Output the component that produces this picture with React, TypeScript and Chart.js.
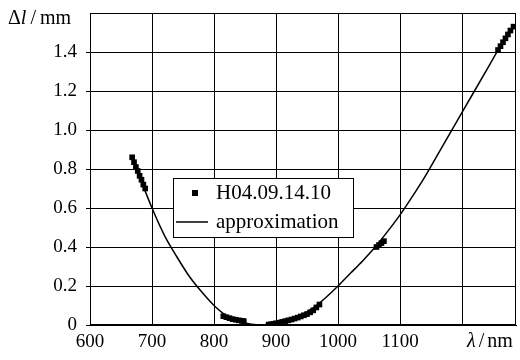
import React, { useEffect, useRef } from 'react';
import { Chart, registerables } from 'chart.js';
Chart.register(...registerables);

// Measured points (nm, mm)
const measuredLambda = [
  668, 671, 674, 677, 680, 683, 686, 689,
  815, 820, 825, 830, 835, 840, 845, 848,
  888, 892, 896, 900, 905, 910, 915, 920, 925, 930, 935, 940, 945, 950, 955, 960, 965, 970,
  1062, 1066, 1070, 1074,
  1258, 1262, 1266, 1270, 1274, 1278, 1283,
];
const measuredDl = [
  0.86, 0.835, 0.81, 0.79, 0.765, 0.745, 0.72, 0.70,
  0.045, 0.04, 0.035, 0.03, 0.027, 0.024, 0.021, 0.02,
  0.002, 0.004, 0.006, 0.009, 0.012, 0.016, 0.02, 0.024, 0.028, 0.033, 0.038, 0.044, 0.05, 0.056, 0.065, 0.075, 0.09, 0.105,
  0.40, 0.41, 0.42, 0.43,
  1.41, 1.43, 1.45, 1.47, 1.49, 1.51, 1.53,
];

// Approximation curve (nm, mm)
const approxLambda = [
  668, 680, 700, 720, 740, 760, 780, 800, 820, 840, 860, 880, 900, 920, 940, 960, 980,
  1000, 1020, 1040, 1060, 1080, 1100, 1120, 1140, 1160, 1180, 1200, 1220, 1240, 1260, 1285,
];
const approxDl = [
  0.86, 0.76, 0.60, 0.46, 0.35, 0.25, 0.17, 0.10, 0.048, 0.02, 0.004, 0.0, 0.007, 0.024, 0.05, 0.088, 0.14,
  0.20, 0.265, 0.33, 0.40, 0.48, 0.565, 0.66, 0.76, 0.87, 0.98, 1.09, 1.20, 1.31, 1.42, 1.54,
];

const xTickValues = [600, 700, 800, 900, 1000, 1100, 1200];
const yTickValues = [0, 0.2, 0.4, 0.6, 0.8, 1.0, 1.2, 1.4, 1.6];
const seriesLabels = ['H04.09.14.10', 'approximation'];
const yTitle = ['Δ', 'l', '/', 'mm'];
const xTitle = ['λ', '/', 'nm'];

const FONT_FAMILY = '"Liberation Serif", "Times New Roman", serif';
const FONT_SIZE = 19;

export default function App() {
  const ref = useRef<HTMLCanvasElement>(null);

  useEffect(() => {
    const canvas = ref.current;
    if (!canvas) return;

    const overlay = {
      id: 'overlay',
      afterDraw(chart: any) {
        const ctx = chart.ctx as CanvasRenderingContext2D;
        const a = chart.chartArea;
        ctx.save();
        // frame
        ctx.strokeStyle = '#000';
        ctx.lineWidth = 1;
        ctx.strokeRect(Math.round(a.left) + 0.5, Math.round(a.top) + 0.5, Math.round(a.right - a.left) - 1, Math.round(a.bottom - a.top) - 1);

        const tsize = 20;
        const normal = `${tsize}px ${FONT_FAMILY}`;
        const italic = `italic ${tsize}px ${FONT_FAMILY}`;
        ctx.fillStyle = '#000';
        ctx.textBaseline = 'middle';
        ctx.textAlign = 'left';

        // y title
        let x = 8;
        const yy = 19;
        [normal, italic, normal, normal].forEach((f, i) => {
          ctx.font = f;
          const pad = yTitle[i] === '/' ? 4 : 0;
          x += pad;
          ctx.fillText(yTitle[i], x, yy);
          x += ctx.measureText(yTitle[i]).width + pad;
        });
        // x title
        x = 467;
        const xy = 342;
        [italic, normal, normal].forEach((f, i) => {
          ctx.font = f;
          const pad = xTitle[i] === '/' ? 3 : 0;
          x += pad;
          ctx.fillText(xTitle[i], x, xy);
          x += ctx.measureText(xTitle[i]).width + pad;
        });

        // legend
        const lx = a.left + 83;
        const ly = a.top + 165;
        const lw = 180;
        const lh = 59;
        ctx.fillStyle = '#fff';
        ctx.fillRect(lx, ly, lw, lh);
        ctx.strokeStyle = '#000';
        ctx.lineWidth = 1;
        ctx.strokeRect(lx + 0.5, ly + 0.5, lw, lh);
        ctx.fillStyle = '#000';
        ctx.fillRect(lx + 19, ly + 12, 6, 6);
        ctx.beginPath();
        ctx.lineWidth = 1.5;
        ctx.moveTo(lx + 3, ly + 44);
        ctx.lineTo(lx + 35, ly + 44);
        ctx.stroke();
        ctx.font = `21px ${FONT_FAMILY}`;
        ctx.fillText(seriesLabels[0], lx + 43, ly + 15);
        ctx.fillText(seriesLabels[1], lx + 43, ly + 44);
        ctx.restore();
      },
    };

    const tickFont = { family: FONT_FAMILY, size: FONT_SIZE };

    const chart = new Chart(canvas, {
      type: 'scatter',
      data: {
        datasets: [
          {
            label: seriesLabels[0],
            data: measuredLambda.map((v, i) => ({ x: v, y: measuredDl[i] })),
            pointStyle: 'rect',
            pointRadius: 4,
            backgroundColor: '#000',
            borderColor: '#000',
            borderWidth: 0,
            showLine: false,
            order: 1,
          },
          {
            label: seriesLabels[1],
            data: approxLambda.map((v, i) => ({ x: v, y: approxDl[i] })),
            showLine: true,
            pointRadius: 0,
            borderColor: '#000',
            borderWidth: 1.5,
            cubicInterpolationMode: 'monotone',
            order: 2,
          },
        ],
      },
      options: {
        animation: false,
        responsive: false,
        maintainAspectRatio: false,
        layout: { padding: { top: 13, right: 4, left: 0, bottom: 0 } },
        plugins: { legend: { display: false }, tooltip: { enabled: false } },
        scales: {
          x: {
            type: 'linear',
            min: 600,
            max: 1287,
            afterBuildTicks: (axis: any) => {
              axis.ticks = xTickValues.map((v) => ({ value: v }));
            },
            ticks: {
              callback: (v: any) => (v === 1200 ? '' : String(v)),
              font: tickFont,
              color: '#000',
              padding: 6,
              maxRotation: 0,
              autoSkip: false,
            },
            grid: { color: '#000', lineWidth: 1, drawTicks: false, tickLength: 0 },
            border: { color: '#000', width: 1 },
            afterFit: (s: any) => {
              s.height = 35;
              s.paddingLeft = 0;
              s.paddingRight = 0;
            },
          },
          y: {
            min: 0,
            max: 1.6,
            afterBuildTicks: (axis: any) => {
              axis.ticks = yTickValues.map((v) => ({ value: v }));
            },
            ticks: {
              callback: (v: any) => {
                const n = Number(v);
                if (Math.abs(n - 1.6) < 1e-6) return '';
                if (n === 0) return '0';
                return n.toFixed(1);
              },
              font: tickFont,
              color: '#000',
              padding: 9,
              autoSkip: false,
            },
            grid: {
              color: '#000',
              lineWidth: 1,
              tickLength: 4,
              tickColor: (c: any) => (c.tick && Math.abs(c.tick.value - 1.6) < 1e-6 ? 'rgba(0,0,0,0)' : '#000'),
            },
            border: { color: '#000', width: 1 },
            afterFit: (s: any) => {
              s.width = 90;
              s.paddingTop = 0;
              s.paddingBottom = 0;
            },
          },
        },
      },
      plugins: [overlay],
    });
    return () => chart.destroy();
  }, []);

  return (
    <div style={{ position: 'fixed', left: 0, top: 0, width: 520, height: 360, background: '#fff' }}>
      <canvas ref={ref} width={520} height={360} style={{ display: 'block' }} />
    </div>
  );
}
